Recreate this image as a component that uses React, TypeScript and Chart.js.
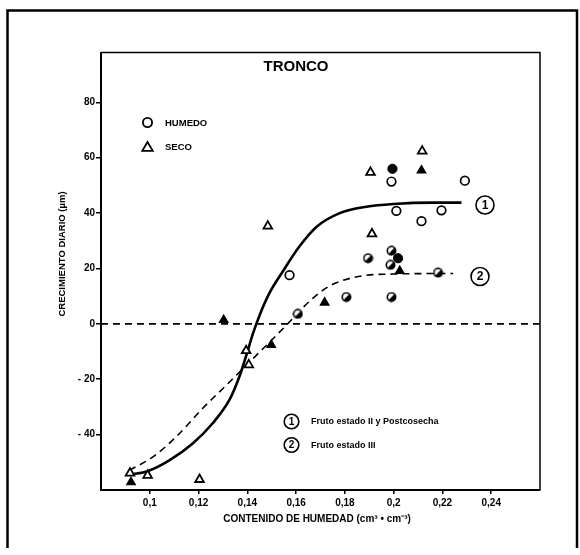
import React, { useEffect, useRef } from "react";
import { Chart, registerables } from "chart.js";

Chart.register(...registerables);

// ---------- data ----------
const xTicks = [0.1, 0.12, 0.14, 0.16, 0.18, 0.2, 0.22, 0.24];
const yTicks = [-40, -20, 0, 20, 40, 60, 80];

const humedoOpen = [[0.1573, 17.6], [0.1991, 51.4], [0.2292, 51.7], [0.2011, 40.8], [0.2196, 41.0], [0.2114, 37.1]];
const humedoFilled = [[0.1995, 56.0], [0.2018, 23.7]];
const humedoHalf = [[0.1607, 3.6], [0.1806, 9.7], [0.1991, 9.7], [0.1895, 23.7], [0.1991, 26.4], [0.1987, 21.3], [0.2182, 18.5]];
const secoOpen = [[0.0919, -53.9], [0.0991, -54.7], [0.1204, -56.2], [0.1395, -9.7], [0.1406, -14.8], [0.1484, 35.3], [0.1911, 32.5], [0.1905, 54.7], [0.2117, 62.4]];
const secoFilled = [[0.0923, -57.2], [0.1303, 1.4], [0.1498, -7.6], [0.1717, 7.7], [0.2025, 19.1], [0.2114, 55.4]];

const curve1 = [[0.0923, -54.4], [0.0991, -53.2], [0.108, -49.3], [0.1176, -43.2], [0.1258, -35.9], [0.1327, -27.4], [0.1368, -18.9], [0.1395, -11.6], [0.1423, -3.5], [0.1452, 3.5], [0.149, 11.0], [0.1546, 19.0], [0.1614, 28.0], [0.1683, 35.0], [0.1779, 40.0], [0.1888, 42.3], [0.1998, 43.3], [0.2162, 43.8], [0.2278, 43.8]];
const curve2 = [[0.0916, -52.9], [0.1012, -48.1], [0.1108, -40.8], [0.1217, -30.5], [0.1327, -21.0], [0.1395, -15.0], [0.1464, -9.0], [0.1532, -3.0], [0.1587, 2.0], [0.1635, 6.5], [0.17, 11.5], [0.1751, 14.3], [0.1861, 17.2], [0.1998, 18.0], [0.2244, 18.2]];
const zeroLine = [[0.08, 0], [0.26, 0]];

const titleText = "TRONCO";
const xTitle = "CONTENIDO DE HUMEDAD (cm³ • cm⁻³)";
const yTitle = "CRECIMIENTO DIARIO (µm)";
const legendLabels = ["HUMEDO", "SECO"];
const curveLabels = ["Fruto estado II y Postcosecha", "Fruto estado III"];

const toXY = (arr: number[][]) => arr.map(([x, y]) => ({ x, y }));
const FONT = '"Liberation Sans", Arial, sans-serif';

function makeHalfCircle(): HTMLCanvasElement {
  const c = document.createElement("canvas");
  c.width = 11;
  c.height = 11;
  const g = c.getContext("2d")!;
  const cc = 5.5, r = 4.2;
  g.beginPath();
  g.arc(cc, cc, r, 0, Math.PI * 2);
  g.fillStyle = "#fff";
  g.fill();
  g.beginPath();
  g.moveTo(cc, cc);
  g.arc(cc, cc, r, -Math.PI / 4, (3 * Math.PI) / 4);
  g.closePath();
  g.fillStyle = "#000";
  g.fill();
  g.beginPath();
  g.arc(cc, cc, r, 0, Math.PI * 2);
  g.lineWidth = 1.6;
  g.strokeStyle = "#000";
  g.stroke();
  return c;
}

function tri(ctx: CanvasRenderingContext2D, x: number, y: number, r: number, fill: boolean) {
  ctx.beginPath();
  ctx.moveTo(x, y - r);
  ctx.lineTo(x + r * 0.95, y + r * 0.6);
  ctx.lineTo(x - r * 0.95, y + r * 0.6);
  ctx.closePath();
  ctx.lineWidth = 1.8;
  ctx.strokeStyle = "#000";
  if (fill) {
    ctx.fillStyle = "#000";
    ctx.fill();
  }
  ctx.stroke();
}

function circledNum(ctx: CanvasRenderingContext2D, x: number, y: number, r: number, n: string, size: number) {
  ctx.beginPath();
  ctx.arc(x, y, r, 0, Math.PI * 2);
  ctx.lineWidth = 1.6;
  ctx.strokeStyle = "#000";
  ctx.stroke();
  ctx.fillStyle = "#000";
  ctx.font = `bold ${size}px ${FONT}`;
  ctx.textAlign = "center";
  ctx.textBaseline = "middle";
  ctx.fillText(n, x, y + 0.5);
}

const decorPlugin = {
  id: "decor",
  beforeDraw(chart: any) {
    const ctx = chart.ctx as CanvasRenderingContext2D;
    ctx.save();
    ctx.fillStyle = "#fff";
    ctx.fillRect(0, 0, chart.width, chart.height);
    ctx.strokeStyle = "#000";
    ctx.lineWidth = 2.5;
    ctx.beginPath();
    ctx.moveTo(7.5, 548);
    ctx.lineTo(7.5, 10.5);
    ctx.lineTo(577, 10.5);
    ctx.lineTo(577, 548);
    ctx.stroke();
    ctx.restore();
  },
  afterDraw(chart: any) {
    const ctx = chart.ctx as CanvasRenderingContext2D;
    const a = chart.chartArea;
    ctx.save();
    ctx.strokeStyle = "#000";
    ctx.lineWidth = 1.5;
    ctx.beginPath();
    ctx.moveTo(a.left, a.top);
    ctx.lineTo(a.right, a.top);
    ctx.lineTo(a.right, a.bottom);
    ctx.stroke();

    ctx.fillStyle = "#000";
    ctx.font = `bold 15px ${FONT}`;
    ctx.textAlign = "center";
    ctx.textBaseline = "middle";
    ctx.fillText(titleText, 296, 67);

    ctx.font = `bold 10px ${FONT}`;
    ctx.fillText(xTitle, 317, 519);
    ctx.save();
    ctx.translate(62, 254);
    ctx.rotate(-Math.PI / 2);
    ctx.font = `bold 9.5px ${FONT}`;
    ctx.fillText(yTitle, 0, 0);
    ctx.restore();

    ctx.beginPath();
    ctx.arc(147.5, 122.5, 4.6, 0, Math.PI * 2);
    ctx.lineWidth = 1.8;
    ctx.stroke();
    tri(ctx, 147.5, 147.5, 5.5, false);
    ctx.font = `bold 9.5px ${FONT}`;
    ctx.textAlign = "left";
    ctx.textBaseline = "middle";
    ctx.fillStyle = "#000";
    ctx.fillText(legendLabels[0], 165, 123);
    ctx.fillText(legendLabels[1], 165, 147);

    circledNum(ctx, 291.5, 421.5, 7.3, "1", 10);
    circledNum(ctx, 291.5, 445, 7.3, "2", 10);
    ctx.font = `bold 9px ${FONT}`;
    ctx.textAlign = "left";
    ctx.textBaseline = "middle";
    ctx.fillText(curveLabels[0], 311, 422);
    ctx.fillText(curveLabels[1], 311, 445.5);

    circledNum(ctx, 485, 205, 9, "1", 12);
    circledNum(ctx, 480, 276.5, 9, "2", 12);
    ctx.restore();
  },
};

export default function App() {
  const ref = useRef<HTMLCanvasElement | null>(null);

  useEffect(() => {
    if (!ref.current) return;
    const half = makeHalfCircle();
    const tickFont = { family: FONT, size: 10, weight: "bold" as const };
    const chart = new Chart(ref.current, {
      type: "scatter",
      data: {
        datasets: [
          { data: toXY(humedoOpen), pointStyle: "circle", pointRadius: 4.3, borderColor: "#000", backgroundColor: "#fff", borderWidth: 1.7, order: 1 },
          { data: toXY(humedoFilled), pointStyle: "circle", pointRadius: 4.6, borderColor: "#000", backgroundColor: "#000", borderWidth: 1, order: 1 },
          { data: toXY(humedoHalf), pointStyle: half as any, pointRadius: 5, borderColor: "#000", backgroundColor: "#000", order: 1 },
          { data: toXY(secoOpen), pointStyle: "triangle", pointRadius: 5, borderColor: "#000", backgroundColor: "#fff", borderWidth: 1.8, order: 1 },
          { data: toXY(secoFilled), pointStyle: "triangle", pointRadius: 5, borderColor: "#000", backgroundColor: "#000", borderWidth: 1.2, order: 1 },
          { data: toXY(curve1), showLine: true, pointRadius: 0, borderColor: "#000", borderWidth: 2.6, cubicInterpolationMode: "monotone", order: 5 } as any,
          { data: toXY(curve2), showLine: true, pointRadius: 0, borderColor: "#000", borderWidth: 1.6, borderDash: [7, 5], cubicInterpolationMode: "monotone", order: 5 } as any,
          { data: toXY(zeroLine), showLine: true, pointRadius: 0, borderColor: "#000", borderWidth: 1.6, borderDash: [7, 5], order: 6 },
        ],
      },
      options: {
        responsive: false,
        animation: false,
        events: [],
        layout: { padding: { top: 52.5, right: 40, left: 0, bottom: 0 } },
        plugins: { legend: { display: false }, tooltip: { enabled: false }, title: { display: false } },
        scales: {
          x: {
            type: "linear",
            min: 0.08,
            max: 0.26,
            afterBuildTicks: (axis: any) => {
              axis.ticks = xTicks.map((v) => ({ value: v }));
            },
            afterFit: (axis: any) => {
              axis.height = 65;
            },
            ticks: {
              color: "#000",
              font: tickFont,
              padding: 3,
              maxRotation: 0,
              callback: (v: any) => String(Number(Number(v).toFixed(2))).replace(".", ","),
            },
            grid: { display: true, drawOnChartArea: false, drawTicks: true, tickLength: 4, color: "#000", lineWidth: 1.5 },
            border: { display: true, color: "#000", width: 2 },
          },
          y: {
            type: "linear",
            min: -60,
            max: 98,
            afterBuildTicks: (axis: any) => {
              axis.ticks = yTicks.map((v) => ({ value: v }));
            },
            afterFit: (axis: any) => {
              axis.width = 101;
            },
            ticks: {
              color: "#000",
              font: tickFont,
              padding: 1,
              callback: (v: any) => (Number(v) < 0 ? "- " + Math.abs(Number(v)) : String(v)),
            },
            grid: { display: true, drawOnChartArea: false, drawTicks: true, tickLength: 5, color: "#000", lineWidth: 1.5 },
            border: { display: true, color: "#000", width: 2 },
          },
        },
      },
      plugins: [decorPlugin],
    });
    return () => chart.destroy();
  }, []);

  return (
    <div style={{ position: "fixed", left: 0, top: 0, width: 580, height: 555, background: "#fff" }}>
      <canvas ref={ref} width={580} height={555} style={{ display: "block" }} />
    </div>
  );
}
